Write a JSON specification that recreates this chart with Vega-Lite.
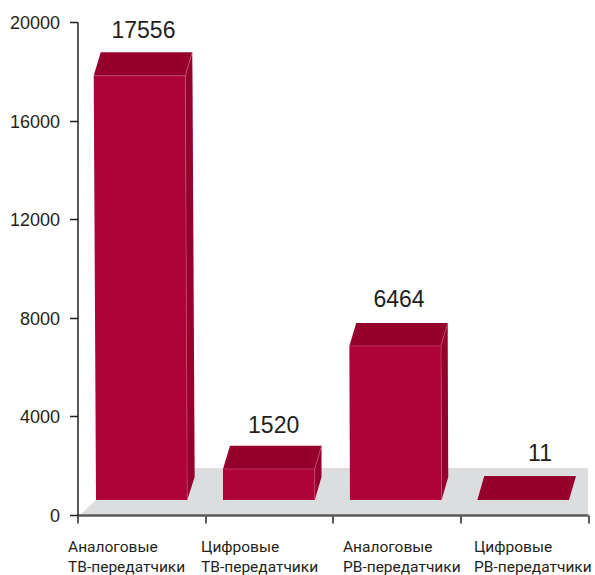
{
"$schema":"https://vega.github.io/schema/vega-lite/v6.json",
"width":510.5,"height":493,
"autosize":"none",
"padding":{"left":77.5,"top":22,"right":7,"bottom":60},
"background":"white",
"view":{"stroke":null},
"config":{"axis":{"grid":false}},
"datasets":{
"floor":[
{"y":0,"x":0.02,"x2":4},
{"y":608.5,"x":0.145,"x2":4},
{"y":1907,"x":0.176,"x2":4}
],
"faces":[
{"face":"b1side","kind":"side","y":608.5,"x":0.86,"x2":0.86},
{"face":"b1side","kind":"side","y":1541.6,"x":0.858,"x2":0.918},
{"face":"b1side","kind":"side","y":17822,"x":0.845,"x2":0.901},
{"face":"b1side","kind":"side","y":18771,"x":0.899,"x2":0.899},
{"face":"b1top","kind":"top","y":17822,"x":0.127,"x2":0.845},
{"face":"b1top","kind":"top","y":18771,"x":0.182,"x2":0.899},
{"face":"b1front","kind":"front","y":608.5,"x":0.145,"x2":0.86},
{"face":"b1front","kind":"front","y":17822,"x":0.127,"x2":0.845},
{"face":"b2side","kind":"side","y":608.5,"x":1.859,"x2":1.859},
{"face":"b2side","kind":"side","y":1541.6,"x":1.859,"x2":1.912},
{"face":"b2side","kind":"side","y":1866,"x":1.859,"x2":1.912},
{"face":"b2side","kind":"side","y":2811,"x":1.912,"x2":1.912},
{"face":"b2top","kind":"top","y":1866,"x":1.14,"x2":1.859},
{"face":"b2top","kind":"top","y":2811,"x":1.195,"x2":1.912},
{"face":"b2front","kind":"front","y":608.5,"x":1.14,"x2":1.859},
{"face":"b2front","kind":"front","y":1866,"x":1.14,"x2":1.859},
{"face":"b3side","kind":"side","y":608.5,"x":2.853,"x2":2.853},
{"face":"b3side","kind":"side","y":1541.6,"x":2.853,"x2":2.905},
{"face":"b3side","kind":"side","y":6856,"x":2.848,"x2":2.901},
{"face":"b3side","kind":"side","y":7789,"x":2.901,"x2":2.901},
{"face":"b3top","kind":"top","y":6856,"x":2.13,"x2":2.848},
{"face":"b3top","kind":"top","y":7789,"x":2.184,"x2":2.901},
{"face":"b3front","kind":"front","y":608.5,"x":2.135,"x2":2.853},
{"face":"b3front","kind":"front","y":6856,"x":2.13,"x2":2.848},
{"face":"b4top","kind":"top","y":608.5,"x":3.133,"x2":3.851},
{"face":"b4top","kind":"top","y":1582,"x":3.187,"x2":3.906}
],
"edges":[
{"e":"b1a","i":0,"x":0.127,"y":17822},
{"e":"b1a","i":1,"x":0.845,"y":17822},
{"e":"b1a","i":2,"x":0.86,"y":608.5},
{"e":"b1b","i":0,"x":0.845,"y":17822},
{"e":"b1b","i":1,"x":0.899,"y":18771},
{"e":"b2a","i":0,"x":1.14,"y":1866},
{"e":"b2a","i":1,"x":1.859,"y":1866},
{"e":"b2a","i":2,"x":1.859,"y":608.5},
{"e":"b2b","i":0,"x":1.859,"y":1866},
{"e":"b2b","i":1,"x":1.912,"y":2811},
{"e":"b3a","i":0,"x":2.13,"y":6856},
{"e":"b3a","i":1,"x":2.848,"y":6856},
{"e":"b3a","i":2,"x":2.853,"y":608.5},
{"e":"b3b","i":0,"x":2.848,"y":6856},
{"e":"b3b","i":1,"x":2.901,"y":7789}
],
"values":[
{"value":"17556","x":0.517,"y":19351},
{"value":"1520","x":1.537,"y":3314},
{"value":"6464","x":2.519,"y":8450},
{"value":"11","x":3.624,"y":2203}
],
"cats":[
{"t":"Аналоговые","x":-0.074,"y":-1500},
{"t":"ТВ-передатчики","x":-0.074,"y":-2310},
{"t":"Цифровые","x":0.968,"y":-1500},
{"t":"ТВ-передатчики","x":0.968,"y":-2310},
{"t":"Аналоговые","x":2.08,"y":-1500},
{"t":"РВ-передатчики","x":2.08,"y":-2310},
{"t":"Цифровые","x":3.107,"y":-1500},
{"t":"РВ-передатчики","x":3.107,"y":-2310}
]
},
"data":{"name":"floor"},
"layer":[
{"data":{"name":"floor"},
 "mark":{"type":"area","orient":"horizontal","color":"#dcddde"},
 "encoding":{
  "y":{"field":"y","type":"quantitative","scale":{"domain":[0,20000],"nice":false,"clamp":false},
   "axis":{"title":null,"values":[0,4000,8000,12000,16000,20000],"format":"d","tickSize":8,"tickColor":"#231f20","domainColor":"#231f20","domainWidth":1.5,"tickWidth":1.5,"labelFont":"Liberation Sans","labelFontSize":18,"labelColor":"#231f20","labelPadding":10,"labelOffset":1.5,"zindex":1}},
  "x":{"field":"x","type":"quantitative","scale":{"domain":[0,4],"nice":false},
   "axis":{"title":null,"values":[0,1,2,3,4],"labels":false,"tickSize":8,"tickColor":"#231f20","tickWidth":1.5,"domainColor":"#58595b","domainWidth":2.5,"zindex":1}},
  "x2":{"field":"x2"}
 }},
{"data":{"name":"faces"},
 "mark":{"type":"area","orient":"horizontal"},
 "encoding":{
  "y":{"field":"y","type":"quantitative"},
  "x":{"field":"x","type":"quantitative"},
  "x2":{"field":"x2"},
  "detail":{"field":"face"},
  "color":{"field":"kind","type":"nominal","legend":null,"scale":{"domain":["front","top","side"],"range":["#ae0338","#96002c","#96002c"]}}
 }},
{"data":{"name":"edges"},
 "mark":{"type":"line","color":"#c9557a","strokeWidth":0.6},
 "encoding":{
  "x":{"field":"x","type":"quantitative"},
  "y":{"field":"y","type":"quantitative"},
  "detail":{"field":"e"},
  "order":{"field":"i","type":"quantitative"}
 }},
{"data":{"name":"values"},
 "mark":{"type":"text","font":"Liberation Sans","fontSize":23,"color":"#231f20","align":"center","baseline":"alphabetic"},
 "encoding":{
  "x":{"field":"x","type":"quantitative"},
  "y":{"field":"y","type":"quantitative"},
  "text":{"field":"value","type":"nominal"}
 }},
{"data":{"name":"cats"},
 "mark":{"type":"text","font":"Roboto","fontSize":15.5,"color":"#231f20","align":"left","baseline":"alphabetic"},
 "encoding":{
  "x":{"field":"x","type":"quantitative"},
  "y":{"field":"y","type":"quantitative"},
  "text":{"field":"t","type":"nominal"}
 }}
]
}
